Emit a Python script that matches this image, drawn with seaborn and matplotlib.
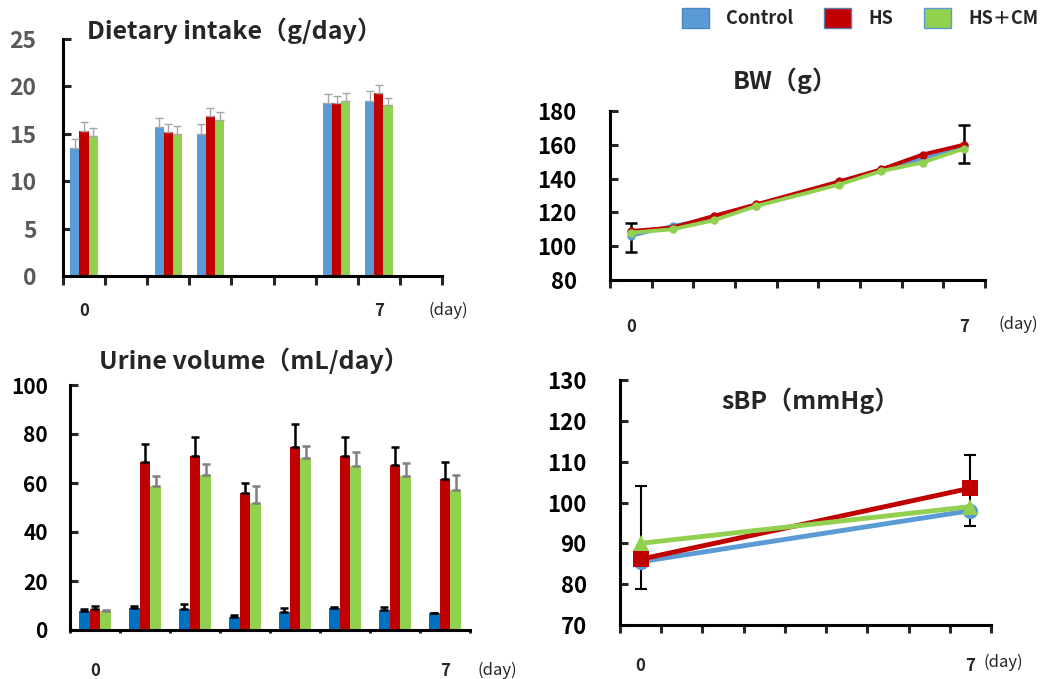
import numpy as np
import pandas as pd
import seaborn as sns
import matplotlib
matplotlib.use("Agg")
import matplotlib.pyplot as plt
from matplotlib.patches import Patch

# ---------------- data ----------------
groups = ["Control", "HS", "HS＋CM"]
colors = ["#5B9BD5", "#C00000", "#92D050"]

# Dietary intake (g/day): slot index along the 9-slot day axis
diet_slots = [0, 2, 3, 6, 7]
diet_control = [13.5, 15.7, 15.0, 18.2, 18.5]
diet_hs = [15.3, 15.2, 16.9, 18.2, 19.3]
diet_cm = [14.8, 15.0, 16.5, 18.5, 18.0]
diet_err_control = [0.9, 1.0, 1.0, 1.0, 1.0]
diet_err_hs = [0.9, 0.8, 0.8, 0.8, 0.8]
diet_err_cm = [0.8, 0.8, 0.8, 0.8, 0.8]

# Urine volume (mL/day)
urine_slots = [0, 1, 2, 3, 4, 5, 6, 7]
urine_control = [7.9, 8.8, 8.4, 5.2, 7.2, 9.1, 8.2, 6.8]
urine_hs = [8.4, 68.7, 71.0, 55.9, 74.8, 70.9, 67.5, 61.8]
urine_cm = [7.8, 58.9, 63.4, 52.0, 70.2, 66.9, 62.7, 57.1]
urine_err_control = [0.5, 1.1, 2.2, 0.8, 1.6, 0.2, 1.1, 0.3]
urine_err_hs = [1.4, 7.2, 7.6, 4.2, 9.3, 8.0, 7.3, 6.9]
urine_err_cm = [0.5, 4.0, 4.5, 6.8, 4.9, 5.6, 5.6, 6.3]

# Body weight (g)
bw_slots = [0, 1, 2, 3, 5, 6, 7, 8]
bw_control = [106.2, 112.0, 116.5, 124.0, 137.0, 145.0, 152.0, 159.0]
bw_hs = [109.0, 111.0, 118.0, 124.7, 138.3, 145.4, 154.2, 160.1]
bw_cm = [108.0, 110.0, 115.4, 123.7, 136.5, 144.4, 149.5, 157.8]
bw_err_slots = [0, 8]
bw_err_lo = [96.7, 149.5]
bw_err_hi = [113.5, 171.9]

# Systolic blood pressure (mmHg)
sbp_slots = [0, 8]
sbp_control = [85.5, 98.0]
sbp_hs = [86.1, 103.5]
sbp_cm = [90.0, 99.0]
sbp_err_lo = [78.7, 94.3]
sbp_err_hi = [104.0, 111.6]

# ---------------- style ----------------
sns.set_style("ticks")
FAM = ["Noto Sans CJK JP", "DejaVu Sans"]
plt.rcParams["font.family"] = FAM

W, H = 1042, 679
fig = plt.figure(figsize=(W / 100, H / 100), dpi=100)


def ax_px(x0, x1, ytop, ybot):
    return fig.add_axes([x0 / W, 1 - ybot / H, (x1 - x0) / W, (ybot - ytop) / H])


def style_axis(ax, nslots, ylim, yticks, xlab_pos, ylabcolor, ypad, xpad, xticklen, ysize=15):
    for s in ["top", "right"]:
        ax.spines[s].set_visible(False)
    for s in ["left", "bottom"]:
        ax.spines[s].set_linewidth(2.2)
        ax.spines[s].set_color("black")
    ax.set_xlim(-0.5, nslots - 0.5)
    ax.set_ylim(*ylim)
    ax.set_yticks(yticks)
    ax.set_yticklabels([str(t) for t in yticks])
    ax.set_xticks(np.arange(-0.5, nslots, 1.0))
    ax.set_xticklabels([""] * len(ax.get_xticks()))
    ax.set_xticks(xlab_pos, minor=True)
    ax.set_xticklabels(["0", "7"], minor=True)
    ax.tick_params(axis="y", direction="in", length=6, width=2.2, pad=ypad,
                   labelsize=ysize, labelcolor=ylabcolor)
    for lab in ax.get_yticklabels():
        lab.set_fontweight("bold")
    ax.tick_params(axis="x", which="major", direction="out", length=xticklen, width=2.2)
    ax.tick_params(axis="x", which="minor", length=0, pad=xpad, labelsize=12)
    for lab in ax.get_xticklabels(minor=True):
        lab.set_fontweight("bold")
    ax.set_xlabel("")
    ax.set_ylabel("")
    ax.grid(False)
    ax.patch.set_alpha(0)


def bar_panel(ax, slots, nslots, vals, errs, colors_, errcolors, errlw):
    rows = []
    for g, v in zip(groups, vals):
        for s, y in zip(slots, v):
            rows.append({"slot": str(s), "group": g, "value": y})
    df = pd.DataFrame(rows)
    width = 0.65
    sns.barplot(data=df, x="slot", y="value", hue="group",
                order=[str(i) for i in range(nslots)], hue_order=groups,
                palette=colors_, width=width, saturation=1, linewidth=0,
                errorbar=None, legend=False, ax=ax)
    bw = width / 3
    for i, (v, e) in enumerate(zip(vals, errs)):
        xs = np.array(slots) + (i - 1) * bw
        ax.errorbar(xs, v, yerr=[np.zeros(len(e)), e], fmt="none",
                    ecolor=errcolors[i], elinewidth=errlw, capsize=3, capthick=errlw, zorder=3)


# ---- Dietary intake ----
ax1 = ax_px(63, 442, 39, 276)
bar_panel(ax1, diet_slots, 9, [diet_control, diet_hs, diet_cm],
          [diet_err_control, diet_err_hs, diet_err_cm], colors,
          ["#A6A6A6"] * 3, 1.0)
style_axis(ax1, 9, (0, 25), [0, 5, 10, 15, 20, 25], [0, 7], "#595959", 19, 19, 6.5, ysize=16.5)

# ---- Urine volume ----
ax2 = ax_px(70, 470, 385, 630)
bar_panel(ax2, urine_slots, 8, [urine_control, urine_hs, urine_cm],
          [urine_err_control, urine_err_hs, urine_err_cm],
          ["#0070C0", "#C00000", "#92D050"], ["black", "black", "#7F7F7F"], 1.8)
style_axis(ax2, 8, (0, 100), [0, 20, 40, 60, 80, 100], [0, 7], "black", 16, 23, 2.5, ysize=15)

# ---- Body weight ----
ax3 = ax_px(610, 985, 111, 280)
rows = []
for g, v in zip(groups, [bw_control, bw_hs, bw_cm]):
    for s, y in zip(bw_slots, v):
        rows.append({"pos": s, "group": g, "value": y})
df_bw = pd.DataFrame(rows)
ax3.errorbar(bw_err_slots, [bw_control[0], bw_control[-1]],
             yerr=[[bw_control[0] - bw_err_lo[0], bw_control[-1] - bw_err_lo[1]],
                   [bw_err_hi[0] - bw_control[0], bw_err_hi[1] - bw_control[-1]]],
             fmt="none", ecolor="black", elinewidth=1.8, capsize=4, capthick=1.8, zorder=1)
sns.lineplot(data=df_bw, x="pos", y="value", hue="group", hue_order=groups,
             palette=colors, marker="o", markersize=6, markeredgewidth=0,
             linewidth=2.8, legend=False, ax=ax3)
style_axis(ax3, 9, (80, 180), [80, 100, 120, 140, 160, 180], [0, 8], "black", 24, 27, 6, ysize=16)

# ---- sBP ----
ax4 = ax_px(620, 991, 380, 625)
rows = []
for g, v in zip(groups, [sbp_control, sbp_hs, sbp_cm]):
    for s, y in zip(sbp_slots, v):
        rows.append({"pos": s, "group": g, "value": y})
df_sbp = pd.DataFrame(rows)
mid = [(a + b) / 2 for a, b in zip(sbp_err_lo, sbp_err_hi)]
ax4.errorbar(sbp_slots, mid,
             yerr=[[m - lo for m, lo in zip(mid, sbp_err_lo)],
                   [hi - m for m, hi in zip(mid, sbp_err_hi)]],
             fmt="none", ecolor="black", elinewidth=1.5, capsize=4, capthick=1.5, zorder=1)
sns.lineplot(data=df_sbp, x="pos", y="value", hue="group", hue_order=groups,
             style="group", style_order=groups,
             markers={"Control": "o", "HS": "s", "HS＋CM": "^"}, dashes=False,
             palette=colors, markersize=11, markeredgewidth=0,
             linewidth=3.5, legend=False, ax=ax4)
style_axis(ax4, 9, (70, 130), [70, 80, 90, 100, 110, 120, 130], [0, 8], "black", 24, 23, 5.5, ysize=16)

# ---- titles ----
tkw = dict(ha="center", va="center", fontsize=18, fontweight="bold", family=FAM)
fig.text(234 / W, 1 - 31 / H, "Dietary intake（g/day）", **tkw)
fig.text(254 / W, 1 - 361 / H, "Urine volume（mL/day）", **tkw)
fig.text(785 / W, 1 - 81 / H, "BW（g）", **tkw)
fig.text(811 / W, 1 - 401 / H, "sBP（mmHg）", **tkw)

# ---- (day) labels ----
dkw = dict(ha="center", va="center", fontsize=12, color="#262626", family=FAM)
fig.text(448 / W, 1 - 310 / H, "(day)", **dkw)
fig.text(497 / W, 1 - 670 / H, "(day)", **dkw)
fig.text(1018 / W, 1 - 324 / H, "(day)", **dkw)
fig.text(1003 / W, 1 - 662 / H, "(day)", **dkw)

# ---- legend ----
handles = [Patch(facecolor=c, edgecolor=e, linewidth=1.0)
           for c, e in zip(colors, ["#4A86C5", "#5B7FB5", "#5B9BD5"])]
fig.legend(handles, groups, ncol=3, loc="upper right", bbox_to_anchor=(1.012, 1.012),
           frameon=False, handlelength=1.5, handleheight=1.3, handletextpad=0.95,
           columnspacing=1.7, prop={"family": FAM, "weight": "bold", "size": 13})

fig.savefig("out.png", dpi=100)
